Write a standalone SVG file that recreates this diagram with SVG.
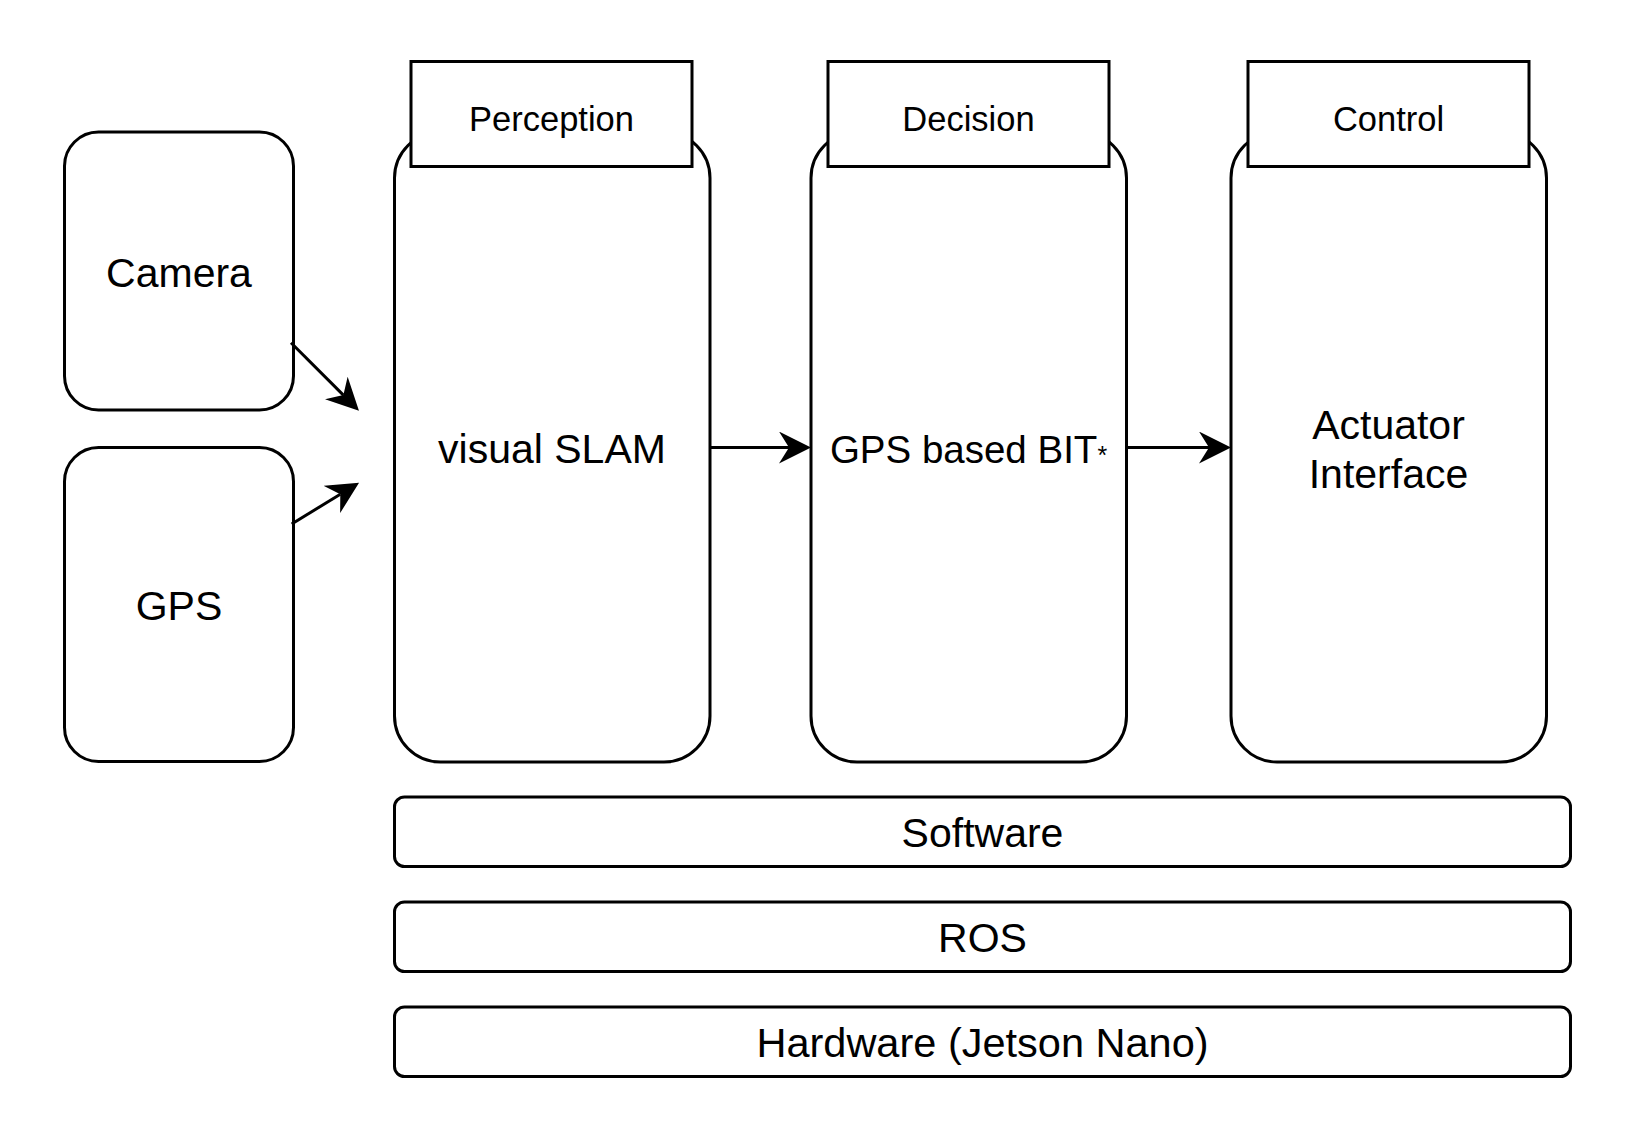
<svg xmlns="http://www.w3.org/2000/svg" width="1632" height="1142" viewBox="0 0 1632 1142">
<style>
.box{fill:#fff;stroke:#000;stroke-width:3}
.t{font-family:"Liberation Sans",Arial,Helvetica,sans-serif;fill:#000;text-anchor:middle}
.big{font-size:41px}
.hd{font-size:34.5px}
.edge{fill:none;stroke:#000;stroke-width:3}
</style>
<defs>
<marker id="arr" viewBox="-32 -16 32 32" markerWidth="32" markerHeight="32" refX="-22" refY="0" orient="auto" markerUnits="userSpaceOnUse">
<path d="M0,0 L-32,-16 L-22,0 L-32,16 Z" fill="#000"/>
</marker>
</defs>
<rect width="1632" height="1142" fill="#fff"/>
<g id="camera">
<rect class="box" x="64.5" y="132" width="229" height="278" rx="34"/>
<text class="t big" x="179" y="287">Camera</text>
</g>
<g id="gps">
<rect class="box" x="64.5" y="447.5" width="229" height="314" rx="34"/>
<text class="t big" x="179" y="620">GPS</text>
</g>
<g id="perception">
<rect class="box" x="394.5" y="132" width="315.5" height="630" rx="46"/>
<rect class="box" x="411" y="61.5" width="281" height="105"/>
<text class="t hd" x="551.5" y="131">Perception</text>
<text class="t big" x="552" y="463">visual SLAM</text>
</g>
<g id="decision">
<rect class="box" x="811" y="132" width="315.5" height="630" rx="46"/>
<rect class="box" x="828" y="61.5" width="281" height="105"/>
<text class="t hd" x="968.5" y="131">Decision</text>
<text class="t" style="font-size:38.5px" x="968.5" y="463">GPS based BIT<tspan style="font-size:25px" dy="1">*</tspan></text>
</g>
<g id="control">
<rect class="box" x="1231" y="132" width="315.5" height="630" rx="46"/>
<rect class="box" x="1248" y="61.5" width="281" height="105"/>
<text class="t hd" x="1388.5" y="131">Control</text>
<text class="t big" x="1388.5" y="439">Actuator</text>
<text class="t big" x="1388.5" y="488">Interface</text>
</g>
<g id="software">
<rect class="box" x="394.5" y="797" width="1176" height="69.5" rx="10"/>
<text class="t big" x="982.5" y="847">Software</text>
</g>
<g id="ros">
<rect class="box" x="394.5" y="902" width="1176" height="69.5" rx="10"/>
<text class="t big" x="982.5" y="952">ROS</text>
</g>
<g id="hardware">
<rect class="box" x="394.5" y="1007" width="1176" height="69.5" rx="10"/>
<text class="t" style="font-size:41.5px" x="982.5" y="1057">Hardware (Jetson Nano)</text>
</g>
<g id="connectors">
<path class="edge" d="M291,342.7 L343.4,395.1" marker-end="url(#arr)"/>
<path class="edge" d="M291.7,524 L340.3,494.2" marker-end="url(#arr)"/>
<path class="edge" d="M710,447.5 L789,447.5" marker-end="url(#arr)"/>
<path class="edge" d="M1126.5,447.5 L1209,447.5" marker-end="url(#arr)"/>
</g>
</svg>
